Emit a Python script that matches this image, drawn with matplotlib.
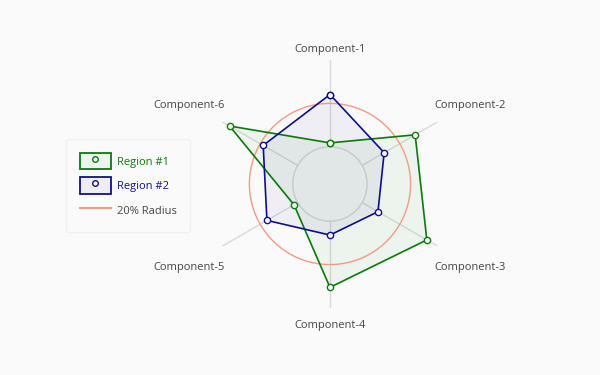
import numpy as np
import matplotlib
matplotlib.use("Agg")
import matplotlib.pyplot as plt
from matplotlib.patches import Patch, Circle
from matplotlib.lines import Line2D
from matplotlib.legend_handler import HandlerTuple
from matplotlib.transforms import offset_copy

plt.rcParams['font.family'] = ['Open Sans', 'DejaVu Sans']

components = ["Component-1", "Component-2", "Component-3",
              "Component-4", "Component-5", "Component-6"]
region1 = [1.8, 28.2, 34.4, 30.5, 2.0, 36.3]
region2 = [24.1, 11.7, 8.4, 6.4, 16.4, 18.4]
ref_radius = 20
r_max = 40
hole = 0.3

BG = '#fafafa'
GREEN = '#0b7a0b'
NAVY = '#10108a'
SALMON = '#f59a84'

fig = plt.figure(figsize=(6, 3.75), dpi=100, facecolor=BG)
ax = fig.add_axes([0.3433, 0.1787, 0.4133, 0.6613], projection='polar')
ax.set_facecolor(BG)
ax.set_theta_zero_location('N')
ax.set_theta_direction(-1)

# background for the hole
ax.add_patch(Circle((0.5, 0.5), 0.5 * hole, transform=ax.transAxes,
                    facecolor=BG, edgecolor='none', clip_on=False, zorder=0.5))

n = len(components)
angles = np.arange(n) * 2 * np.pi / n
ang_c = np.append(angles, angles[0])

def closed(v):
    return np.append(v, v[0])

ax.fill(ang_c, closed(region1), color=GREEN, alpha=0.05, zorder=2, clip_on=False)
ax.plot(ang_c, closed(region1), color=GREEN, lw=1.2, marker='o', ms=4.5,
        mfc='white', mec=GREEN, mew=1, zorder=4, clip_on=False)
ax.fill(ang_c, closed(region2), color=NAVY, alpha=0.05, zorder=2, clip_on=False)
ax.plot(ang_c, closed(region2), color=NAVY, lw=1.2, marker='o', ms=4.5,
        mfc='white', mec=NAVY, mew=1, zorder=5, clip_on=False)

circ_t = np.linspace(0, 2 * np.pi, 361)
ax.plot(circ_t, np.full_like(circ_t, ref_radius), color=SALMON, lw=1, zorder=3)

ax.set_ylim(0, r_max)
ax.set_rorigin(-r_max * hole / (1 - hole))
ax.set_xticks(angles)
ax.set_xticklabels([])
ax.set_yticks([])
ax.xaxis.grid(True, color='#d9d9d9', lw=1)
ax.yaxis.grid(False)
ax.spines['polar'].set_visible(False)
ax.spines['inner'].set_color('#c8c8c8')
ax.spines['inner'].set_linewidth(1)
ax.spines['inner'].set_zorder(2.5)

label_r = [46, 57.6, 57.6, 47.0, 57.6, 57.6]
tr = offset_copy(ax.transData, fig=fig, x=0, y=-2.5, units='dots')
for a, lab, rr in zip(angles, components, label_r):
    ax.text(a, rr, lab, ha='center', va='center', fontsize=8,
            color='#444444', clip_on=False, transform=tr)

h1 = (Patch(facecolor=(0, 0.5, 0, 0.05), edgecolor=GREEN, lw=1.3),
      Line2D([], [], ls='none', marker='o', ms=4, mfc='white', mec=GREEN, mew=1))
h2 = (Patch(facecolor=(0, 0, 0.5, 0.05), edgecolor=NAVY, lw=1.3),
      Line2D([], [], ls='none', marker='o', ms=4, mfc='white', mec=NAVY, mew=1))
h3 = Line2D([], [], color=SALMON, lw=1.5)
leg = fig.legend([h1, h2, h3], ['Region #1', 'Region #2', '20% Radius'],
                 handler_map={tuple: HandlerTuple(ndivide=1)},
                 loc='upper left', bbox_to_anchor=(0.11, 0.629),
                 borderaxespad=0,
                 fontsize=8, frameon=True, fancybox=True,
                 handlelength=2.8, handleheight=1.9, labelspacing=0.72,
                 borderpad=1.25, handletextpad=0.5)
fr = leg.get_frame()
fr.set_facecolor('#fbfbfb')
fr.set_edgecolor('#eeeeee')
fr.set_linewidth(1)
for t, c in zip(leg.get_texts(), [GREEN, NAVY, '#444444']):
    t.set_color(c)

fig.savefig('out.png', dpi=100, facecolor=BG)
